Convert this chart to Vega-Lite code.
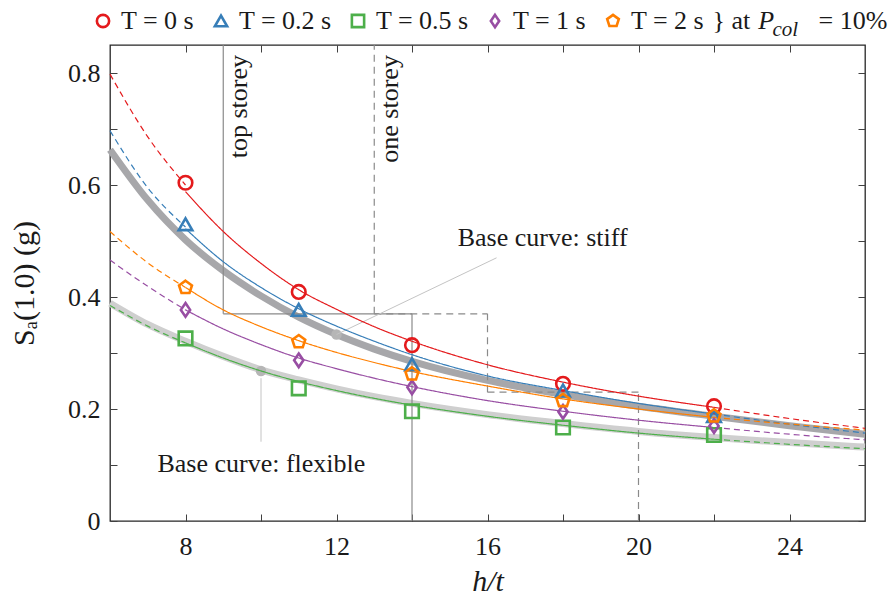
{
  "$schema": "https://vega.github.io/schema/vega-lite/v6.json",
  "width": 755,
  "height": 476,
  "autosize": {"type": "none"},
  "padding": {"left": 110, "top": 45, "right": 31, "bottom": 84},
  "background": "white",
  "config": {
    "font": "Liberation Serif",
    "view": {"stroke": "#262626", "strokeWidth": 1.3},
    "axis": {"grid": false, "domain": false, "tickSize": -7, "tickColor": "#404040", "tickWidth": 1, "labelFont": "Liberation Serif", "labelFontSize": 26, "labelColor": "#1a1a1a", "titleFont": "Liberation Serif", "titleFontSize": 30, "titleFontWeight": "normal", "titleColor": "#1a1a1a"},
    "legend": {"labelFont": "Liberation Serif", "labelFontSize": 26, "labelColor": "#1a1a1a", "symbolStrokeWidth": 2.6, "symbolSize": 150, "labelOffset": 5, "columnPadding": 13},
    "text": {"font": "Liberation Serif", "color": "#1a1a1a"}
  },
  "datasets": {
    "bands": [
      {"b": "stiff", "x": 6, "y": 0.663}, {"b": "stiff", "x": 7, "y": 0.573}, {"b": "stiff", "x": 8, "y": 0.502}, {"b": "stiff", "x": 9, "y": 0.447}, {"b": "stiff", "x": 10, "y": 0.402}, {"b": "stiff", "x": 11, "y": 0.364}, {"b": "stiff", "x": 12, "y": 0.333}, {"b": "stiff", "x": 13, "y": 0.307}, {"b": "stiff", "x": 14, "y": 0.285}, {"b": "stiff", "x": 16, "y": 0.251}, {"b": "stiff", "x": 18, "y": 0.226}, {"b": "stiff", "x": 20, "y": 0.205}, {"b": "stiff", "x": 22, "y": 0.187}, {"b": "stiff", "x": 24, "y": 0.170}, {"b": "stiff", "x": 26, "y": 0.155},
      {"b": "flex", "x": 6, "y": 0.389}, {"b": "flex", "x": 7, "y": 0.351}, {"b": "flex", "x": 8, "y": 0.321}, {"b": "flex", "x": 9, "y": 0.294}, {"b": "flex", "x": 10, "y": 0.270}, {"b": "flex", "x": 11, "y": 0.252}, {"b": "flex", "x": 12, "y": 0.236}, {"b": "flex", "x": 13, "y": 0.222}, {"b": "flex", "x": 14, "y": 0.210}, {"b": "flex", "x": 16, "y": 0.190}, {"b": "flex", "x": 18, "y": 0.174}, {"b": "flex", "x": 20, "y": 0.160}, {"b": "flex", "x": 22, "y": 0.149}, {"b": "flex", "x": 24, "y": 0.140}, {"b": "flex", "x": 26, "y": 0.132}
    ],
    "curves": [
      {"T": "0", "s": "L", "x": 6, "y": 0.798}, {"T": "0", "s": "L", "x": 7, "y": 0.686}, {"T": "0", "s": "L", "x": 8, "y": 0.600},
      {"T": "0", "s": "M", "x": 8, "y": 0.588}, {"T": "0", "s": "M", "x": 9, "y": 0.517}, {"T": "0", "s": "M", "x": 10, "y": 0.460}, {"T": "0", "s": "M", "x": 11, "y": 0.413}, {"T": "0", "s": "M", "x": 12, "y": 0.378}, {"T": "0", "s": "M", "x": 13, "y": 0.347}, {"T": "0", "s": "M", "x": 14, "y": 0.321}, {"T": "0", "s": "M", "x": 16, "y": 0.279}, {"T": "0", "s": "M", "x": 18, "y": 0.248}, {"T": "0", "s": "M", "x": 20, "y": 0.223}, {"T": "0", "s": "M", "x": 22, "y": 0.203},
      {"T": "0", "s": "R", "x": 22, "y": 0.203}, {"T": "0", "s": "R", "x": 24, "y": 0.183}, {"T": "0", "s": "R", "x": 26, "y": 0.1655},
      {"T": "0.2", "s": "L", "x": 6, "y": 0.697}, {"T": "0.2", "s": "L", "x": 7, "y": 0.595}, {"T": "0.2", "s": "L", "x": 8, "y": 0.525},
      {"T": "0.2", "s": "M", "x": 8, "y": 0.522}, {"T": "0.2", "s": "M", "x": 9, "y": 0.463}, {"T": "0.2", "s": "M", "x": 10, "y": 0.417}, {"T": "0.2", "s": "M", "x": 11, "y": 0.379}, {"T": "0.2", "s": "M", "x": 12, "y": 0.348}, {"T": "0.2", "s": "M", "x": 13, "y": 0.321}, {"T": "0.2", "s": "M", "x": 14, "y": 0.297}, {"T": "0.2", "s": "M", "x": 16, "y": 0.259}, {"T": "0.2", "s": "M", "x": 18, "y": 0.233}, {"T": "0.2", "s": "M", "x": 20, "y": 0.210}, {"T": "0.2", "s": "M", "x": 22, "y": 0.191},
      {"T": "0.2", "s": "R", "x": 22, "y": 0.191}, {"T": "0.2", "s": "R", "x": 24, "y": 0.173}, {"T": "0.2", "s": "R", "x": 26, "y": 0.157},
      {"T": "0.5", "s": "L", "x": 6, "y": 0.385}, {"T": "0.5", "s": "L", "x": 7, "y": 0.348}, {"T": "0.5", "s": "L", "x": 8, "y": 0.318},
      {"T": "0.5", "s": "M", "x": 8, "y": 0.318}, {"T": "0.5", "s": "M", "x": 9, "y": 0.291}, {"T": "0.5", "s": "M", "x": 10, "y": 0.268}, {"T": "0.5", "s": "M", "x": 11, "y": 0.249}, {"T": "0.5", "s": "M", "x": 12, "y": 0.233}, {"T": "0.5", "s": "M", "x": 13, "y": 0.219}, {"T": "0.5", "s": "M", "x": 14, "y": 0.207}, {"T": "0.5", "s": "M", "x": 16, "y": 0.187}, {"T": "0.5", "s": "M", "x": 18, "y": 0.171}, {"T": "0.5", "s": "M", "x": 20, "y": 0.157}, {"T": "0.5", "s": "M", "x": 22, "y": 0.146},
      {"T": "0.5", "s": "R", "x": 22, "y": 0.146}, {"T": "0.5", "s": "R", "x": 24, "y": 0.137}, {"T": "0.5", "s": "R", "x": 26, "y": 0.129},
      {"T": "1", "s": "L", "x": 6, "y": 0.466}, {"T": "1", "s": "L", "x": 7, "y": 0.419}, {"T": "1", "s": "L", "x": 8, "y": 0.377},
      {"T": "1", "s": "M", "x": 8, "y": 0.377}, {"T": "1", "s": "M", "x": 9, "y": 0.343}, {"T": "1", "s": "M", "x": 10, "y": 0.315}, {"T": "1", "s": "M", "x": 11, "y": 0.291}, {"T": "1", "s": "M", "x": 12, "y": 0.272}, {"T": "1", "s": "M", "x": 13, "y": 0.255}, {"T": "1", "s": "M", "x": 14, "y": 0.240}, {"T": "1", "s": "M", "x": 16, "y": 0.215}, {"T": "1", "s": "M", "x": 18, "y": 0.196}, {"T": "1", "s": "M", "x": 20, "y": 0.180}, {"T": "1", "s": "M", "x": 22, "y": 0.167},
      {"T": "1", "s": "R", "x": 22, "y": 0.167}, {"T": "1", "s": "R", "x": 24, "y": 0.155}, {"T": "1", "s": "R", "x": 26, "y": 0.145},
      {"T": "2", "s": "L", "x": 6, "y": 0.517}, {"T": "2", "s": "L", "x": 7, "y": 0.461}, {"T": "2", "s": "L", "x": 8, "y": 0.417},
      {"T": "2", "s": "M", "x": 8, "y": 0.417}, {"T": "2", "s": "M", "x": 9, "y": 0.377}, {"T": "2", "s": "M", "x": 10, "y": 0.347}, {"T": "2", "s": "M", "x": 11, "y": 0.322}, {"T": "2", "s": "M", "x": 12, "y": 0.301}, {"T": "2", "s": "M", "x": 13, "y": 0.283}, {"T": "2", "s": "M", "x": 14, "y": 0.267}, {"T": "2", "s": "M", "x": 16, "y": 0.241}, {"T": "2", "s": "M", "x": 18, "y": 0.218}, {"T": "2", "s": "M", "x": 20, "y": 0.200}, {"T": "2", "s": "M", "x": 22, "y": 0.185},
      {"T": "2", "s": "R", "x": 22, "y": 0.185}, {"T": "2", "s": "R", "x": 24, "y": 0.173}, {"T": "2", "s": "R", "x": 26, "y": 0.1625}
    ],
    "pts": [
      {"T": "0", "x": 8, "y": 0.604}, {"T": "0", "x": 11, "y": 0.409}, {"T": "0", "x": 14, "y": 0.314}, {"T": "0", "x": 18, "y": 0.245}, {"T": "0", "x": 22, "y": 0.205},
      {"T": "0.2", "x": 8, "y": 0.530}, {"T": "0.2", "x": 11, "y": 0.377}, {"T": "0.2", "x": 14, "y": 0.280}, {"T": "0.2", "x": 18, "y": 0.233}, {"T": "0.2", "x": 22, "y": 0.1875},
      {"T": "0.5", "x": 8, "y": 0.326}, {"T": "0.5", "x": 11, "y": 0.237}, {"T": "0.5", "x": 14, "y": 0.196}, {"T": "0.5", "x": 18, "y": 0.167}, {"T": "0.5", "x": 22, "y": 0.1536},
      {"T": "1", "x": 8, "y": 0.377}, {"T": "1", "x": 11, "y": 0.287}, {"T": "1", "x": 14, "y": 0.2387}, {"T": "1", "x": 18, "y": 0.195}, {"T": "1", "x": 22, "y": 0.1696},
      {"T": "2", "x": 8, "y": 0.417}, {"T": "2", "x": 11, "y": 0.320}, {"T": "2", "x": 14, "y": 0.2625}, {"T": "2", "x": 18, "y": 0.215}, {"T": "2", "x": 22, "y": 0.1875}
    ],
    "dots": [{"x": 12, "y": 0.333}, {"x": 10, "y": 0.268}],
    "solidBounds": [
      {"x": 9, "x2": 9, "y": 0.37, "y2": 0.85},
      {"x": 9, "x2": 14, "y": 0.37, "y2": 0.37},
      {"x": 14, "x2": 14, "y": 0, "y2": 0.37}
    ],
    "dashBounds": [
      {"x": 13, "x2": 13, "y": 0.37, "y2": 0.85},
      {"x": 13, "x2": 16, "y": 0.37, "y2": 0.37},
      {"x": 16, "x2": 16, "y": 0.23, "y2": 0.37},
      {"x": 16, "x2": 20, "y": 0.23, "y2": 0.23},
      {"x": 20, "x2": 20, "y": 0, "y2": 0.23}
    ],
    "leaders": [
      {"x": 12, "x2": 16.24, "y": 0.333, "y2": 0.47},
      {"x": 10, "x2": 10, "y": 0.255, "y2": 0.1416}
    ],
    "notes": [
      {"x": 17.46, "y": 0.506, "t": "Base curve: stiff"},
      {"x": 10.01, "y": 0.1018, "t": "Base curve: flexible"}
    ],
    "vnotes": [
      {"x": 9.43, "y": 0.832, "t": "top storey"},
      {"x": 13.42, "y": 0.832, "t": "one storey"}
    ],
    "legNormal": [
      {"x": 21.96, "y": 0.893, "t": "} at"},
      {"x": 24.77, "y": 0.893, "t": "= 10%"}
    ],
    "legItalic": [{"x": 23.17, "y": 0.893, "t": "P"}],
    "legSub": [{"x": 23.55, "y": 0.877, "t": "col"}]
  },
  "layer": [
    {
      "data": {"name": "bands"},
      "transform": [{"filter": "datum.b == 'stiff'"}],
      "mark": {"type": "line", "color": "#a7a7aa", "strokeWidth": 7, "interpolate": "monotone"},
      "encoding": {
        "x": {"field": "x", "type": "quantitative", "scale": {"domain": [6, 26], "nice": false, "zero": false},
              "axis": {"orient": "bottom", "values": [8, 10, 12, 14, 16, 18, 20, 22, 24], "labelExpr": "datum.value % 4 == 0 ? datum.label : ''", "labelPadding": 19, "title": "h/t", "titleFontStyle": "italic", "titlePadding": 7}},
        "y": {"field": "y", "type": "quantitative", "scale": {"domain": [0, 0.85], "nice": false, "zero": true},
              "axis": {"orient": "left", "values": [0, 0.1, 0.2, 0.3, 0.4, 0.5, 0.6, 0.7, 0.8], "labelExpr": "round(datum.value * 10) % 2 == 0 ? (datum.value == 0 ? '0' : format(datum.value, '.1f')) : ''", "labelPadding": 17, "title": "Sₐ(1.0) (g)", "titlePadding": 28}}
      }
    },
    {
      "data": {"name": "bands"},
      "transform": [{"filter": "datum.b == 'flex'"}],
      "mark": {"type": "line", "color": "#cfcfcf", "strokeWidth": 7, "interpolate": "monotone"},
      "encoding": {
        "x": {"field": "x", "type": "quantitative", "scale": {"domain": [6, 26], "nice": false, "zero": false},
              "axis": {"orient": "top", "values": [8, 10, 12, 14, 16, 18, 20, 22, 24], "labels": false, "title": null}},
        "y": {"field": "y", "type": "quantitative", "scale": {"domain": [0, 0.85], "nice": false, "zero": true},
              "axis": {"orient": "right", "values": [0, 0.1, 0.2, 0.3, 0.4, 0.5, 0.6, 0.7, 0.8], "labels": false, "title": null}}
      }
    },
    {
      "data": {"name": "dots"},
      "mark": {"type": "point", "filled": true, "color": "#b6b6b6", "size": 110, "opacity": 1},
      "encoding": {
        "x": {"field": "x", "type": "quantitative", "scale": {"domain": [6, 26], "nice": false, "zero": false}, "axis": null},
        "y": {"field": "y", "type": "quantitative", "scale": {"domain": [0, 0.85], "nice": false, "zero": true}, "axis": null}
      }
    },
    {
      "data": {"name": "solidBounds"},
      "mark": {"type": "rule", "color": "#8a8a8a", "strokeWidth": 1.2},
      "encoding": {
        "x": {"field": "x", "type": "quantitative", "scale": {"domain": [6, 26], "nice": false, "zero": false}, "axis": null},
        "x2": {"field": "x2"},
        "y": {"field": "y", "type": "quantitative", "scale": {"domain": [0, 0.85], "nice": false, "zero": true}, "axis": null},
        "y2": {"field": "y2"}
      }
    },
    {
      "data": {"name": "dashBounds"},
      "mark": {"type": "rule", "color": "#8a8a8a", "strokeWidth": 1.2, "strokeDash": [7, 5]},
      "encoding": {
        "x": {"field": "x", "type": "quantitative", "scale": {"domain": [6, 26], "nice": false, "zero": false}, "axis": null},
        "x2": {"field": "x2"},
        "y": {"field": "y", "type": "quantitative", "scale": {"domain": [0, 0.85], "nice": false, "zero": true}, "axis": null},
        "y2": {"field": "y2"}
      }
    },
    {
      "data": {"name": "leaders"},
      "mark": {"type": "rule", "color": "#c4c4c4", "strokeWidth": 1},
      "encoding": {
        "x": {"field": "x", "type": "quantitative", "scale": {"domain": [6, 26], "nice": false, "zero": false}, "axis": null},
        "x2": {"field": "x2"},
        "y": {"field": "y", "type": "quantitative", "scale": {"domain": [0, 0.85], "nice": false, "zero": true}, "axis": null},
        "y2": {"field": "y2"}
      }
    },
    {
      "data": {"name": "curves"},
      "mark": {"type": "line", "strokeWidth": 1.2, "interpolate": "monotone"},
      "encoding": {
        "x": {"field": "x", "type": "quantitative", "scale": {"domain": [6, 26], "nice": false, "zero": false}, "axis": null},
        "y": {"field": "y", "type": "quantitative", "scale": {"domain": [0, 0.85], "nice": false, "zero": true}, "axis": null},
        "stroke": {"field": "T", "type": "nominal", "scale": {"domain": ["2", "1", "0.5", "0.2", "0"], "range": ["#ff7f00", "#984ea3", "#4daf4a", "#377eb8", "#e41a1c"]}, "legend": null},
        "strokeDash": {"field": "s", "type": "nominal", "scale": {"domain": ["L", "M", "R"], "range": [[6, 4], [1, 0], [6, 4]]}, "legend": null}
      }
    },
    {
      "data": {"name": "pts"},
      "mark": {"type": "point", "filled": false, "strokeWidth": 2.6, "size": 185, "opacity": 1},
      "encoding": {
        "x": {"field": "x", "type": "quantitative", "scale": {"domain": [6, 26], "nice": false, "zero": false}, "axis": null},
        "y": {"field": "y", "type": "quantitative", "scale": {"domain": [0, 0.85], "nice": false, "zero": true}, "axis": null},
        "color": {"field": "T", "type": "nominal", "scale": {"domain": ["0", "0.2", "0.5", "1", "2"], "range": ["#e41a1c", "#377eb8", "#4daf4a", "#984ea3", "#ff7f00"]},
                  "legend": {"orient": "none", "legendX": -20, "legendY": -37, "direction": "horizontal", "title": null, "labelExpr": "'T = ' + datum.label + ' s'"}},
        "shape": {"field": "T", "type": "nominal", "scale": {"domain": ["0", "0.2", "0.5", "1", "2"], "range": ["circle", "triangle-up", "square", "M0,-1L0.68,0L0,1L-0.68,0Z", "M0,-1L0.951,-0.309L0.588,0.809L-0.588,0.809L-0.951,-0.309Z"]},
                  "legend": {"orient": "none", "legendX": -20, "legendY": -37, "direction": "horizontal", "title": null, "labelExpr": "'T = ' + datum.label + ' s'"}}
      }
    },
    {
      "data": {"name": "notes"},
      "mark": {"type": "text", "fontSize": 26, "align": "center", "baseline": "middle"},
      "encoding": {
        "x": {"field": "x", "type": "quantitative", "scale": {"domain": [6, 26], "nice": false, "zero": false}, "axis": null},
        "y": {"field": "y", "type": "quantitative", "scale": {"domain": [0, 0.85], "nice": false, "zero": true}, "axis": null},
        "text": {"field": "t"}
      }
    },
    {
      "data": {"name": "vnotes"},
      "mark": {"type": "text", "fontSize": 26, "align": "right", "baseline": "middle", "angle": 270},
      "encoding": {
        "x": {"field": "x", "type": "quantitative", "scale": {"domain": [6, 26], "nice": false, "zero": false}, "axis": null},
        "y": {"field": "y", "type": "quantitative", "scale": {"domain": [0, 0.85], "nice": false, "zero": true}, "axis": null},
        "text": {"field": "t"}
      }
    },
    {
      "data": {"name": "legNormal"},
      "mark": {"type": "text", "fontSize": 26, "align": "left", "baseline": "middle"},
      "encoding": {
        "x": {"field": "x", "type": "quantitative", "scale": {"domain": [6, 26], "nice": false, "zero": false}, "axis": null},
        "y": {"field": "y", "type": "quantitative", "scale": {"domain": [0, 0.85], "nice": false, "zero": true}, "axis": null},
        "text": {"field": "t"}
      }
    },
    {
      "data": {"name": "legItalic"},
      "mark": {"type": "text", "fontSize": 26, "fontStyle": "italic", "align": "left", "baseline": "middle"},
      "encoding": {
        "x": {"field": "x", "type": "quantitative", "scale": {"domain": [6, 26], "nice": false, "zero": false}, "axis": null},
        "y": {"field": "y", "type": "quantitative", "scale": {"domain": [0, 0.85], "nice": false, "zero": true}, "axis": null},
        "text": {"field": "t"}
      }
    },
    {
      "data": {"name": "legSub"},
      "mark": {"type": "text", "fontSize": 21, "fontStyle": "italic", "align": "left", "baseline": "middle"},
      "encoding": {
        "x": {"field": "x", "type": "quantitative", "scale": {"domain": [6, 26], "nice": false, "zero": false}, "axis": null},
        "y": {"field": "y", "type": "quantitative", "scale": {"domain": [0, 0.85], "nice": false, "zero": true}, "axis": null},
        "text": {"field": "t"}
      }
    }
  ],
  "resolve": {"axis": {"x": "independent", "y": "independent"}}
}
